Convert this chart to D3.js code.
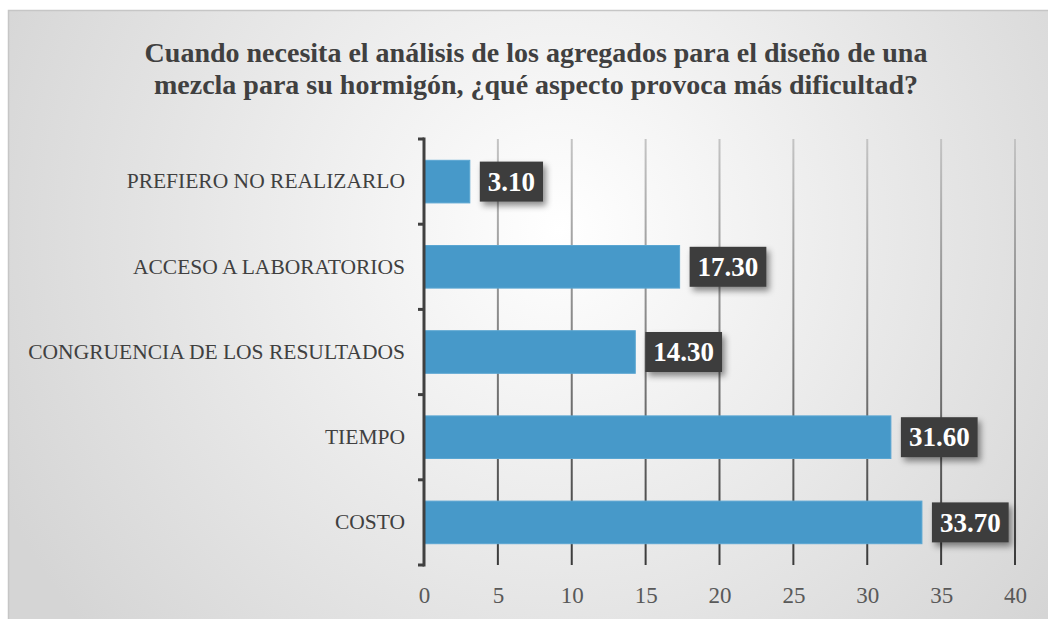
<!DOCTYPE html>
<html>
<head>
<meta charset="utf-8">
<script src="https://cdn.jsdelivr.net/npm/d3@7"></script>
<style>
  body { margin: 0; background: #fff; }
  svg { display: block; }
  svg text { font-family: "Liberation Serif", "DejaVu Serif", serif; }
</style>
</head>
<body>
<div id="chart"></div>
<script>
// data
const categories = ["COSTO", "TIEMPO", "CONGRUENCIA DE LOS RESULTADOS", "ACCESO A LABORATORIOS", "PREFIERO NO REALIZARLO"];
const values = [33.7, 31.6, 14.3, 17.3, 3.1];
const xTicks = [0, 5, 10, 15, 20, 25, 30, 35, 40];
const titleLines = [
    "Cuando necesita el análisis de los agregados para el diseño de una",
    "mezcla para su hormigón, ¿qué aspecto provoca más dificultad?"
];

const W = 1048, H = 619;
const margin = { top: 139, left: 424, right: 33, bottom: 54 };

const svg = d3.select("#chart").append("svg")
    .attr("width", W)
    .attr("height", H);

const defs = svg.append("defs");

const bg = defs.append("radialGradient")
    .attr("id", "bg")
    .attr("gradientUnits", "userSpaceOnUse")
    .attr("cx", 560).attr("cy", 230).attr("r", 620);
bg.append("stop").attr("offset", "0%").attr("stop-color", "#ffffff");
bg.append("stop").attr("offset", "100%").attr("stop-color", "#d5d5d5");

const grid = defs.append("linearGradient")
    .attr("id", "grid")
    .attr("gradientUnits", "userSpaceOnUse")
    .attr("x1", 0).attr("y1", margin.top)
    .attr("x2", 0).attr("y2", H - margin.bottom);
grid.append("stop").attr("offset", "0%").attr("stop-color", "#c4c4c4");
grid.append("stop").attr("offset", "100%").attr("stop-color", "#3a3a3a");

const shadow = defs.append("filter")
    .attr("id", "shadow")
    .attr("x", "-20%").attr("y", "-30%")
    .attr("width", "150%").attr("height", "180%");
shadow.append("feDropShadow")
    .attr("dx", 3).attr("dy", 4)
    .attr("stdDeviation", 3)
    .attr("flood-color", "#000")
    .attr("flood-opacity", 0.45);

// chart frame
svg.append("rect")
    .attr("x", 8.5).attr("y", 10.5)
    .attr("width", W + 10).attr("height", H + 10)
    .attr("fill", "url(#bg)")
    .attr("stroke", "#c6c6c6")
    .attr("stroke-width", 1.5);

// title
svg.append("text")
    .attr("text-anchor", "middle")
    .style("font-weight", "bold")
    .style("font-size", "28px")
    .attr("fill", "#404040")
    .selectAll("tspan")
    .data(titleLines)
    .enter().append("tspan")
    .attr("x", 536)
    .attr("y", (d, i) => 62 + i * 32)
    .text(d => d);

const x = d3.scaleLinear()
    .domain([0, 40])
    .range([margin.left, W - margin.right]);

const y = d3.scaleBand()
    .domain(categories.slice().reverse())
    .range([margin.top, H - margin.bottom])
    .paddingInner(0.5)
    .paddingOuter(0.25);

const data = categories.map((c, i) => ({ cat: c, value: values[i] }));

// vertical gridlines
svg.append("g")
    .selectAll("line")
    .data(xTicks.slice(1))
    .enter().append("line")
    .attr("x1", d => x(d)).attr("x2", d => x(d))
    .attr("y1", margin.top).attr("y2", H - margin.bottom)
    .attr("stroke", "url(#grid)")
    .attr("stroke-width", 2);

// x axis labels
const xAxis = svg.append("g")
    .attr("transform", `translate(0,${H - margin.bottom})`)
    .call(d3.axisBottom(x).tickValues(xTicks).tickSize(0).tickPadding(22));
xAxis.select(".domain").remove();
xAxis.attr("font-family", null);
xAxis.selectAll("text")
    .style("font-size", "23px")
    .attr("fill", "#595959");

// bars
svg.append("g")
    .selectAll("rect")
    .data(data)
    .enter().append("rect")
    .attr("x", x(0))
    .attr("y", d => y(d.cat))
    .attr("width", d => x(d.value) - x(0))
    .attr("height", y.bandwidth())
    .attr("fill", "#4799c9")
    .attr("stroke", "#5aa6d2")
    .attr("stroke-width", 1);

// y axis: labels at band centres, ticks at band edges
const yAxis = svg.append("g")
    .attr("transform", `translate(${margin.left - 19},0)`)
    .call(d3.axisLeft(y).tickSize(0).tickPadding(0));
yAxis.select(".domain").remove();
yAxis.attr("font-family", null);
yAxis.selectAll("text")
    .style("font-size", "21.5px")
    .attr("fill", "#404040");

const edges = d3.range(categories.length + 1).map(i => margin.top + i * y.step());
svg.append("g")
    .selectAll("line")
    .data(edges)
    .enter().append("line")
    .attr("x1", margin.left - 6).attr("x2", margin.left)
    .attr("y1", d => d).attr("y2", d => d)
    .attr("stroke", "#404040")
    .attr("stroke-width", 3);
svg.append("line")
    .attr("x1", margin.left).attr("x2", margin.left)
    .attr("y1", margin.top - 1.5).attr("y2", H - margin.bottom + 1.5)
    .attr("stroke", "#404040")
    .attr("stroke-width", 3);

// value labels in dark boxes
const labels = svg.append("g")
    .selectAll("g")
    .data(data)
    .enter().append("g")
    .attr("transform", d => `translate(${x(d.value) + 10},${y(d.cat) + y.bandwidth() / 2})`);

labels.append("rect")
    .attr("fill", "#3d3d3d")
    .attr("filter", "url(#shadow)");

labels.append("text")
    .style("font-weight", "bold")
    .style("font-size", "27px")
    .attr("fill", "#ffffff")
    .attr("dy", "0.34em")
    .text(d => d.value.toFixed(2))
    .each(function () {
        const w = this.getComputedTextLength();
        const pad = 8;
        d3.select(this).attr("x", pad);
        d3.select(this.previousSibling)
            .attr("x", 0).attr("y", -20)
            .attr("width", w + pad * 2)
            .attr("height", 40);
    });
</script>
</body>
</html>
